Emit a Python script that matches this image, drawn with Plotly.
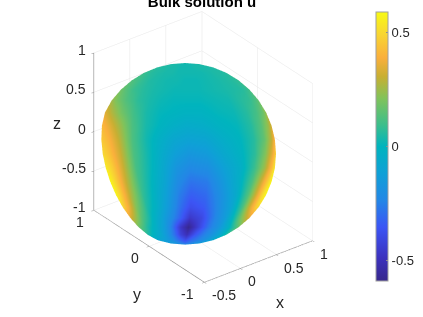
import numpy as np
import plotly.graph_objects as go

title_text = "Bulk solution u"
x_ticks = [-0.5, 0, 0.5, 1]
y_ticks = [-1, 0, 1]
z_ticks = [-1, -0.5, 0, 0.5, 1]
cbar_ticks = [-0.5, 0, 0.5]
u_limits = [-0.59, 0.59]
x_range = [-0.5, 1]
y_range = [-1, 1]
z_range = [-1, 1]
azimuth = -37.5
elevation = 30
cap_plane = -0.5

colorscale = [
    [0.00, "rgb(55,40,140)"], [0.087, "rgb(60,50,190)"], [0.20, "rgb(60,85,245)"],
    [0.30, "rgb(35,135,230)"], [0.40, "rgb(15,160,215)"], [0.50, "rgb(0,180,190)"],
    [0.58, "rgb(60,190,140)"], [0.68, "rgb(130,195,90)"], [0.76, "rgb(200,175,50)"],
    [0.83, "rgb(250,175,60)"], [0.92, "rgb(248,215,50)"], [1.00, "rgb(248,250,20)"],
]

# Position across each row of the visible surface (left edge to right edge)
col_frac = [0, .04, .1, .18, .26, .34, .42, .5, .6, .7, .8, .88, .94, .98, 1]
# Latitude of each row on the silhouette, degrees
row_deg = [90, 81, 72, 63, 54, 45, 36, 27, 18, 9, 0, -9, -18, -27, -36, -45, -54, -63, -72, -81, -90]
# Solution values
u_rows = [
 [.04,.04,.04,.04,.04,.04,.04,.04,.04,.04,.04,.04,.04,.04,.04],
 [.05,.05,.04,.04,.04,.03,.03,.03,.03,.03,.04,.04,.04,.05,.05],
 [.06,.06,.05,.05,.04,.04,.03,.03,.03,.04,.04,.04,.05,.05,.06],
 [.09,.08,.06,.05,.04,.04,.03,.03,.03,.03,.04,.05,.05,.06,.07],
 [.13,.11,.08,.05,.04,.03,.03,.02,.02,.03,.04,.05,.06,.07,.09],
 [.18,.14,.09,.06,.04,.03,.02,.02,.02,.03,.04,.05,.06,.08,.11],
 [.25,.19,.13,.07,.04,.02,.01,.01,.01,.02,.03,.06,.08,.12,.16],
 [.35,.28,.19,.10,.04,.01,.00,-.01,-.01,.01,.02,.06,.11,.17,.24],
 [.42,.36,.26,.12,.04,.00,-.03,-.05,-.04,-.01,.01,.06,.14,.24,.33],
 [.46,.41,.30,.12,.03,-.03,-.08,-.10,-.09,-.04,.00,.06,.16,.29,.41],
 [.50,.44,.32,.12,.03,-.05,-.12,-.16,-.14,-.07,-.01,.07,.21,.36,.48],
 [.55,.47,.32,.11,.02,-.07,-.17,-.22,-.20,-.11,-.03,.09,.25,.42,.54],
 [.58,.47,.30,.10,.00,-.09,-.21,-.28,-.26,-.15,-.03,.12,.33,.49,.58],
 [.58,.45,.27,.08,-.02,-.12,-.25,-.33,-.30,-.19,-.06,.13,.35,.52,.58],
 [.50,.39,.21,.05,-.04,-.15,-.28,-.38,-.34,-.22,-.09,.11,.34,.47,.50],
 [.34,.26,.13,.01,-.09,-.20,-.32,-.46,-.40,-.25,-.13,.05,.22,.31,.35],
 [.18,.12,.04,-.04,-.13,-.27,-.46,-.58,-.42,-.27,-.17,-.06,.05,.12,.18],
 [.05,.02,-.03,-.08,-.17,-.28,-.42,-.50,-.36,-.26,-.19,-.12,-.04,.02,.05],
 [-.08,-.09,-.11,-.14,-.19,-.26,-.32,-.38,-.30,-.26,-.21,-.16,-.11,-.08,-.08],
 [-.16,-.16,-.16,-.18,-.20,-.23,-.26,-.28,-.26,-.23,-.20,-.18,-.16,-.16,-.16],
 [-.20,-.20,-.20,-.20,-.20,-.20,-.20,-.20,-.20,-.20,-.20,-.20,-.20,-.20,-.20],
]

# View basis for the camera (screen right, screen up, toward viewer)
az, el = np.radians(azimuth), np.radians(elevation)
toward = np.array([np.sin(az)*np.cos(el), -np.cos(az)*np.cos(el), np.sin(el)])
right = np.array([np.cos(az), np.sin(az), 0.0])
up = np.array([-np.sin(az)*np.sin(el), np.cos(az)*np.sin(el), np.cos(el)])

def left_edge(sy):
    half = np.sqrt(max(1 - sy*sy, 0))
    scan = np.linspace(-half, half, 2001)
    depth = np.sqrt(np.clip(1 - scan**2 - sy**2, 0, None))
    back_x = scan*right[0] + sy*up[0] - depth*toward[0]
    ok = np.nonzero(back_x >= cap_plane)[0]
    return scan[ok[0]] if len(ok) else 0.0

def sheet_point(sx, sy):
    depth = np.sqrt(max(1 - sx*sx - sy*sy, 0))
    front_x = sx*right[0] + sy*up[0] + depth*toward[0]
    if front_x < cap_plane:
        depth = (cap_plane + 0.002 - sx*right[0] - sy*up[0]) / toward[0]
    return sx*right + sy*up + depth*toward

X, Y, Z = [], [], []
for deg in row_deg:
    sy = np.sin(np.radians(deg))
    lo, hi = left_edge(sy), np.sqrt(max(1 - sy*sy, 0))
    pts = [sheet_point(lo + f*(hi - lo), sy) for f in col_frac]
    X.append([p[0] for p in pts]); Y.append([p[1] for p in pts]); Z.append([p[2] for p in pts])

surface = go.Surface(
    x=X, y=Y, z=Z, surfacecolor=u_rows,
    colorscale=colorscale, cmin=u_limits[0], cmax=u_limits[1],
    lighting=dict(ambient=1, diffuse=0, specular=0, roughness=1, fresnel=0),
    hoverinfo="skip",
    colorbar=dict(
        x=376/423, xanchor="left", xpad=0, y=1-12/317, yanchor="top", ypad=0,
        len=269/317, lenmode="fraction", thickness=12, thicknessmode="pixels",
        tickvals=cbar_ticks, ticktext=["-0.5", "0", "0.5"], ticks="inside", ticklen=2,
        tickcolor="#8c8c8c", outlinecolor="#a0a0a0", outlinewidth=1, borderwidth=0,
        tickfont=dict(family="Liberation Sans", size=13, color="#262626"),
    ),
)

def axis(ticks, rng):
    return dict(
        title=dict(text=""), showticklabels=False,
        range=rng, tickvals=ticks, ticks="outside", ticklen=3,
        tickcolor="#8c8c8c",
        showline=True, linecolor="#8c8c8c", linewidth=1.5, showgrid=True, gridcolor="#e6e6e6",
        gridwidth=1, zeroline=False, showbackground=False, showspikes=False,
    )

tick_font = dict(family="Liberation Sans", size=14, color="#262626")
title_font = dict(family="Liberation Sans", size=16, color="#262626")

def tick_label(x, y, z, value, anchor, dx, dy):
    return dict(x=x, y=y, z=z, text=f"{value:g}", showarrow=False, xanchor=anchor, yanchor="middle",
                xshift=dx, yshift=dy, font=tick_font)

scene_labels = (
    [tick_label(v, y_range[0], z_range[0], v, "left", 6, -13) for v in x_ticks]
    + [tick_label(x_range[0], v, z_range[0], v, "right", -8, -12) for v in y_ticks]
    + [tick_label(x_range[0], y_range[1], v, v, "right", -6, 3) for v in z_ticks]
)

eye_dist = 1.92
px_per_unit = 157
shift_right, shift_up = 21, 11.5
center = -(shift_right*right + shift_up*up)/px_per_unit
eye = center + toward*eye_dist

def axis_name(text, px, py):
    return dict(text=text, xref="paper", yref="paper", x=px/423, y=1-py/317, showarrow=False,
                xanchor="center", yanchor="middle", font=title_font)

fig = go.Figure(surface)
fig.update_layout(
    width=423, height=317, autosize=False,
    margin=dict(l=0, r=0, t=0, b=0),
    paper_bgcolor="white",
    title=dict(text=f"<b>{title_text}</b>", x=202/423, xanchor="center", y=1-7/317, yanchor="bottom",
               font=dict(family="Liberation Sans", size=15, color="black")),
    annotations=[axis_name("x", 280, 302), axis_name("y", 137, 294), axis_name("z", 57, 123)],
    scene=dict(
        domain=dict(x=[0, 0.86], y=[0, 1]),
        xaxis=axis(x_ticks, x_range),
        yaxis=axis(y_ticks, y_range),
        zaxis=axis(z_ticks, z_range),
        annotations=scene_labels,
        aspectmode="manual", aspectratio=dict(x=0.86, y=1.146, z=1.146),
        camera=dict(
            projection=dict(type="orthographic"),
            eye=dict(x=float(eye[0]), y=float(eye[1]), z=float(eye[2])),
            up=dict(x=0, y=0, z=1),
            center=dict(x=float(center[0]), y=float(center[1]), z=float(center[2])),
        ),
    ),
)
fig.write_html("out.html", config={"displayModeBar": False},
               post_script="document.body.style.margin='0';")
